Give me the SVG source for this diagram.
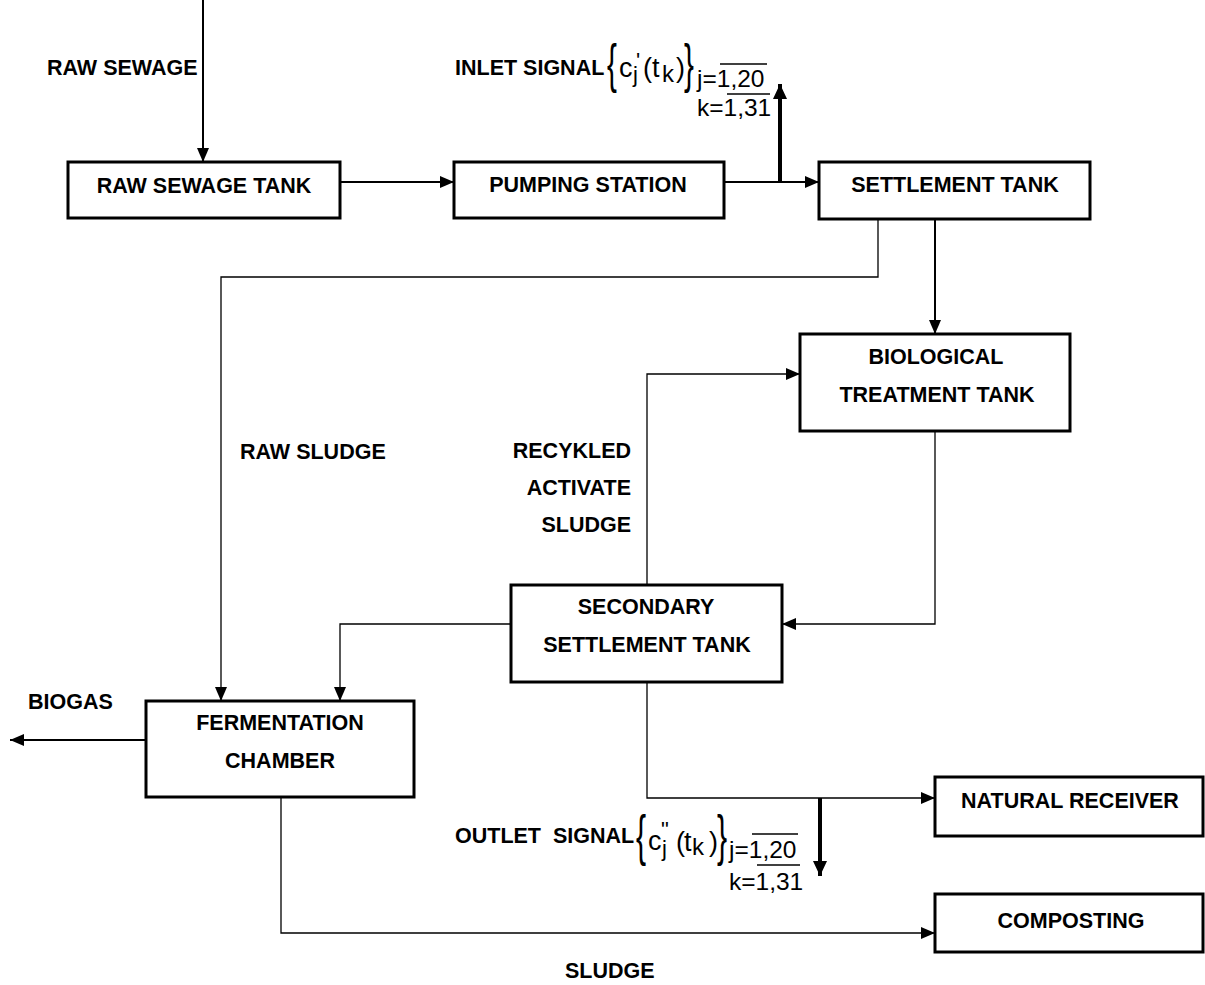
<svg xmlns="http://www.w3.org/2000/svg" width="1205" height="985" viewBox="0 0 1205 985">
<style>
.box{fill:#fff;stroke:#000;stroke-width:3}
.lbl{font-family:"Liberation Sans",Arial,sans-serif;font-weight:bold;font-size:21.5px;fill:#000}
.c{text-anchor:middle}
.f{font-family:"Liberation Sans",Arial,sans-serif;font-weight:normal;fill:#000}
.w{fill:none;stroke:#000;stroke-width:2}
.t{fill:none;stroke:#000;stroke-width:1.3}
.s{fill:none;stroke:#000;stroke-width:4}
.ov{stroke:#000;stroke-width:1.5}
</style>
<defs>
<marker id="ah" markerUnits="userSpaceOnUse" markerWidth="14" markerHeight="12" refX="14" refY="6" orient="auto">
<path d="M0,0 L14,6 L0,12 z" fill="#000"/>
</marker>
<marker id="ahb" markerUnits="userSpaceOnUse" markerWidth="15" markerHeight="14" refX="15" refY="7" orient="auto">
<path d="M0,0 L15,7 L0,14 z" fill="#000"/>
</marker>
</defs>
<rect width="1205" height="985" fill="#fff"/>

<g id="connectors">
<path class="w" d="M203,0 V162" marker-end="url(#ah)"/>
<path class="w" d="M340,182 H454" marker-end="url(#ah)"/>
<path class="w" d="M724,182 H819" marker-end="url(#ah)"/>
<path class="s" d="M780,182 V84" marker-end="url(#ahb)"/>
<path class="w" d="M935,219 V334" marker-end="url(#ah)"/>
<path class="t" d="M878,219 V277 H221 V701" marker-end="url(#ah)"/>
<path class="t" d="M935,431 V624 H782" marker-end="url(#ah)"/>
<path class="t" d="M647,585 V374 H800" marker-end="url(#ah)"/>
<path class="t" d="M511,624 H340 V701" marker-end="url(#ah)"/>
<path class="t" d="M647,682 V798 H935" marker-end="url(#ah)"/>
<path class="s" d="M820,798 V876" marker-end="url(#ahb)"/>
<path class="t" d="M281,797 V933 H935" marker-end="url(#ah)"/>
<path class="w" d="M146,740 H10" marker-end="url(#ah)"/>
</g>

<g id="raw-sewage-tank">
<rect class="box" x="68" y="162" width="272" height="56"/>
<text class="lbl c" x="204" y="193">RAW SEWAGE TANK</text>
</g>
<g id="pumping-station">
<rect class="box" x="454" y="162" width="270" height="56"/>
<text class="lbl c" x="588" y="192">PUMPING STATION</text>
</g>
<g id="settlement-tank">
<rect class="box" x="819" y="162" width="271" height="57"/>
<text class="lbl c" x="955" y="192">SETTLEMENT TANK</text>
</g>
<g id="biological-treatment-tank">
<rect class="box" x="800" y="334" width="270" height="97"/>
<text class="lbl c" x="936" y="364">BIOLOGICAL</text>
<text class="lbl c" x="937" y="402">TREATMENT TANK</text>
</g>
<g id="secondary-settlement-tank">
<rect class="box" x="511" y="585" width="271" height="97"/>
<text class="lbl c" x="646" y="614">SECONDARY</text>
<text class="lbl c" x="647" y="652">SETTLEMENT TANK</text>
</g>
<g id="fermentation-chamber">
<rect class="box" x="146" y="701" width="268" height="96"/>
<text class="lbl c" x="280" y="730">FERMENTATION</text>
<text class="lbl c" x="280" y="768">CHAMBER</text>
</g>
<g id="natural-receiver">
<rect class="box" x="935" y="777" width="268" height="59"/>
<text class="lbl c" x="1070" y="808">NATURAL RECEIVER</text>
</g>
<g id="composting">
<rect class="box" x="935" y="894" width="268" height="58"/>
<text class="lbl c" x="1071" y="928">COMPOSTING</text>
</g>

<g id="labels">
<text class="lbl" x="47" y="75">RAW SEWAGE</text>
<text class="lbl" x="240" y="459">RAW SLUDGE</text>
<text class="lbl" x="631" y="458" text-anchor="end">RECYKLED</text>
<text class="lbl" x="631" y="495" text-anchor="end">ACTIVATE</text>
<text class="lbl" x="631" y="532" text-anchor="end">SLUDGE</text>
<text class="lbl" x="28" y="709">BIOGAS</text>
<text class="lbl" x="565" y="978">SLUDGE</text>
</g>

<g id="inlet-signal">
<text class="lbl" x="455" y="75">INLET SIGNAL</text>
<text class="f" font-size="54" transform="translate(607,82) scale(0.55,1)">{</text>
<text class="f" font-size="27"><tspan x="619" y="77">c</tspan><tspan x="636" y="68" font-size="22">'</tspan><tspan x="633" y="82" font-size="22">j</tspan><tspan x="643" y="77">(</tspan><tspan x="652" y="77">t</tspan><tspan x="662" y="82" font-size="24">k</tspan><tspan x="676" y="77">)</tspan><tspan x="697" y="87" font-size="24.5">j=1,20</tspan><tspan x="697" y="116" font-size="24.5">k=1,31</tspan></text>
<text class="f" font-size="54" transform="translate(684,82) scale(0.55,1)">}</text>
<line class="ov" x1="720" y1="64" x2="767" y2="64"/>
<line class="ov" x1="727" y1="94" x2="770" y2="94"/>
</g>

<g id="outlet-signal">
<text class="lbl" x="455" y="843" xml:space="preserve">OUTLET  SIGNAL</text>
<text class="f" font-size="55" transform="translate(636,854) scale(0.55,1)">{</text>
<text class="f" font-size="27"><tspan x="648" y="850">c</tspan><tspan x="661" y="837" font-size="22">"</tspan><tspan x="662" y="856" font-size="22">j</tspan><tspan x="676" y="851">(</tspan><tspan x="684" y="851">t</tspan><tspan x="692" y="855" font-size="24">k</tspan><tspan x="709" y="851">)</tspan><tspan x="729" y="858" font-size="24.5">j=1,20</tspan><tspan x="729" y="890" font-size="24.5">k=1,31</tspan></text>
<text class="f" font-size="55" transform="translate(717,854) scale(0.55,1)">}</text>
<line class="ov" x1="752" y1="834" x2="798" y2="834"/>
<line class="ov" x1="757" y1="865" x2="800" y2="865"/>
</g>
</svg>
